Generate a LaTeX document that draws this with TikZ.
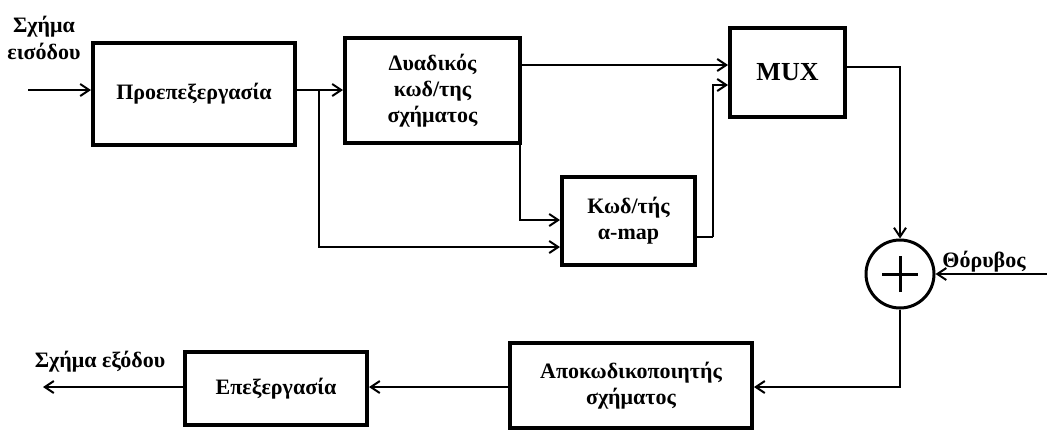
\documentclass[tikz,border=0pt]{standalone}
\usepackage{fontspec}
\setmainfont{Liberation Serif}
\usetikzlibrary{arrows.meta}
\begin{document}
\begin{tikzpicture}[x=0.5pt,y=-0.5pt,
  blk/.style={draw,line width=2pt,inner sep=0pt,font=\bfseries\fontsize{11}{13}\selectfont,align=center},
  sumc/.style={draw,circle,line width=1.5pt,inner sep=0pt,minimum size=34pt},
  conn/.style={line width=1pt,-{Straight Barb[length=4.5pt,width=6pt,line width=1pt]}},
  wire/.style={line width=1pt},
  lbl/.style={font=\bfseries\fontsize{11}{13.5}\selectfont,align=center,inner sep=0pt}]
\useasboundingbox (0,0) rectangle (1047,430);
% blocks
\node[blk,minimum width=101pt,minimum height=51pt] (pre) at (194,94) {Προεπεξεργασία};
\node[blk,minimum width=87.5pt,minimum height=52.5pt] (dual) at (432.5,90.5) {Δυαδικός\\κωδ/της\\σχήματος};
\node[blk,minimum width=57.5pt,minimum height=44.5pt,font=\bfseries\fontsize{13}{15}\selectfont] (mux) at (787.5,72.5) {MUX};
\node[blk,minimum width=66.5pt,minimum height=44pt] (amap) at (628.5,221) {Κωδ/τής\\α-map};
\node[sumc] (add) at (900,274) {};
\node[blk,minimum width=121pt,minimum height=42.5pt] (dec) at (631,385.5) {Αποκωδικοποιητής\\σχήματος};
\node[blk,minimum width=91pt,minimum height=36.5pt] (post) at (276,388.5) {Επεξεργασία};
% plus sign
\draw[line width=1.5pt] ([xshift=-9pt]add.center) -- ([xshift=9pt]add.center)
  ([yshift=-9pt]add.center) -- ([yshift=9pt]add.center);
% labels
\node[lbl] (lin) at (44,38) {Σχήμα\\εισόδου};
\node[lbl] (lout) at (100,362) {Σχήμα εξόδου};
\node[lbl] (lnz) at (984,262) {Θόρυβος};
% coordinates
\coordinate (in) at (28,90);
\coordinate (split) at (319,90);
\coordinate (y65) at (0,65);
\coordinate (y85) at (0,85);
\coordinate (y220) at (0,220);
\coordinate (y247) at (0,247);
\coordinate (k) at (713,237);
\coordinate (y67) at (0,67);
\coordinate (nz) at (1047,274);
\coordinate (y387) at (0,387);
\coordinate (out) at (43,387);
% connectors
\draw[conn] (in) -- (in -| pre.west);
\draw[conn] (split -| pre.east) -- (split -| dual.west);
\draw[conn] (split) |- (amap.west |- y247);
\draw[conn] ([xshift=-1pt]dual.south east) |- (amap.west |- y220);
\draw[conn] (dual.east |- y65) -- (mux.west |- y65);
\draw[wire] (amap.east |- k) -- (k);
\draw[conn] (k) |- (mux.west |- y85);
\draw[conn] (mux.east |- y67) -| (add.north);
\draw[conn] (nz) -- (add.east);
\draw[conn] (add.south) |- (dec.east |- y387);
\draw[conn] (dec.west |- y387) -- (post.east |- y387);
\draw[conn] (post.west |- y387) -- (out);
\end{tikzpicture}
\end{document}
